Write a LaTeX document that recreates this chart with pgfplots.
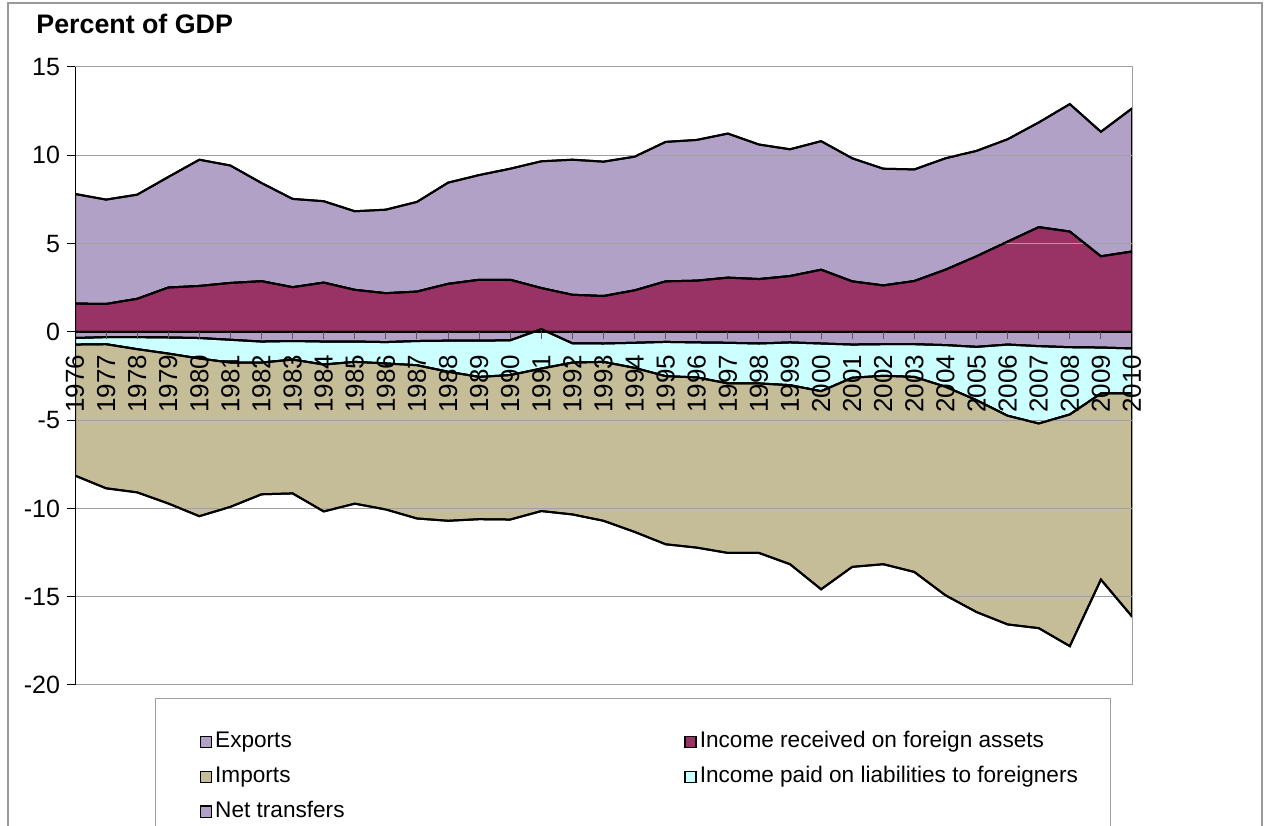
\documentclass[border=0pt]{standalone}
\usepackage{fontspec}
\setmainfont{Liberation Sans}
\usepackage{pgfplots}
\pgfplotsset{compat=1.18}
\usepackage{pgfplotstable}
\usepgfplotslibrary{fillbetween}
\definecolor{lav}{HTML}{B2A1C7}
\definecolor{plum}{HTML}{993366}
\definecolor{tanc}{HTML}{C4BD97}
\definecolor{ltcyan}{HTML}{CCFFFF}
\definecolor{gridgray}{HTML}{A0A0A0}
\pgfplotsset{layers/mylayers/.define layer set={axis background,axis grid,axis ticks,axis lines,pre main,main,axis tick labels,axis descriptions,axis foreground}{}}

\pgfplotstableread{
i year U R C B L
0 1976 7.81 1.60 -0.35 -0.72 -8.14
1 1977 7.49 1.58 -0.30 -0.70 -8.86
2 1978 7.77 1.87 -0.30 -0.98 -9.09
3 1979 8.77 2.51 -0.32 -1.23 -9.72
4 1980 9.75 2.60 -0.35 -1.51 -10.44
5 1981 9.42 2.77 -0.45 -1.74 -9.91
6 1982 8.43 2.87 -0.55 -1.74 -9.20
7 1983 7.53 2.53 -0.52 -1.57 -9.15
8 1984 7.40 2.79 -0.55 -1.85 -10.17
9 1985 6.83 2.38 -0.55 -1.70 -9.73
10 1986 6.92 2.19 -0.58 -1.79 -10.06
11 1987 7.36 2.28 -0.52 -1.89 -10.57
12 1988 8.45 2.72 -0.50 -2.26 -10.70
13 1989 8.88 2.95 -0.50 -2.55 -10.61
14 1990 9.24 2.95 -0.48 -2.45 -10.63
15 1991 9.66 2.48 0.15 -2.08 -10.15
16 1992 9.75 2.10 -0.65 -1.74 -10.34
17 1993 9.64 2.03 -0.66 -1.70 -10.70
18 1994 9.92 2.35 -0.62 -2.04 -11.33
19 1995 10.76 2.86 -0.57 -2.51 -12.03
20 1996 10.87 2.90 -0.60 -2.58 -12.22
21 1997 11.23 3.07 -0.62 -2.92 -12.52
22 1998 10.61 2.99 -0.66 -2.92 -12.52
23 1999 10.34 3.16 -0.60 -3.02 -13.16
24 2000 10.80 3.52 -0.66 -3.36 -14.58
25 2001 9.83 2.86 -0.72 -2.60 -13.31
26 2002 9.24 2.63 -0.70 -2.49 -13.16
27 2003 9.20 2.88 -0.70 -2.55 -13.60
28 2004 9.83 3.52 -0.75 -3.11 -14.92
29 2005 10.25 4.28 -0.85 -3.87 -15.87
30 2006 10.91 5.11 -0.72 -4.75 -16.57
31 2007 11.86 5.93 -0.81 -5.19 -16.78
32 2008 12.90 5.68 -0.87 -4.68 -17.80
33 2009 11.33 4.28 -0.89 -3.49 -14.03
34 2010 12.65 4.55 -0.94 -3.49 -16.12
}\data

\begin{document}
\begin{tikzpicture}
\draw[gray!80, line width=0.6bp] (4bp,-30bp) rectangle (631bp,411.5bp);
\node[anchor=base west, font=\bfseries\fontsize{13.4bp}{15bp}\selectfont, inner sep=0pt] at (18bp,396bp) {Percent of GDP};
\begin{axis}[
  set layers=mylayers,
  at={(37.5bp,70.5bp)}, anchor=south west,
  scale only axis, width=528.5bp, height=309bp,
  xmin=0, xmax=34, ymin=-20, ymax=15,
  xtick={0,...,34},
  xticklabels from table={\data}{year},
  xticklabel style={rotate=90, anchor=east, font=\fontsize{13bp}{15bp}\selectfont},
  xticklabel shift=-172.5bp,
  x tick style={draw=none},
  ytick={-20,-15,-10,-5,0,5,10,15},
  yticklabels={-20,-15,-10,-5,0,5,10,15},
  yticklabel style={font=\fontsize{12.5bp}{14bp}\selectfont},
  ytick pos=left,
  tick align=outside,
  major tick length=4bp,
  y tick style={black, line width=0.5bp},
  ymajorgrids, grid style={gridgray, line width=0.5bp},
  axis line style={gridgray, line width=0.5bp},
  legend columns=2,
  legend style={at={(0.0757,-0.021)}, anchor=north west, draw=gridgray, line width=0.6bp,
    inner xsep=22bp, inner ysep=16bp, row sep=5.8bp,
    font=\fontsize{11.3bp}{13bp}\selectfont,
    nodes={inner xsep=1.5bp, inner ysep=0.5bp, text height=8.2bp, text depth=2.4bp},
    /tikz/every even column/.append style={column sep=53bp}},
  legend image code/.code={\draw[#1, draw=black, line width=0.7bp] (0bp,-2.8bp) rectangle (5.6bp,2.8bp);},
]
\addlegendimage{fill=lav}
\addlegendentry{\makebox[180bp][l]{Exports}}
\addlegendimage{fill=plum}
\addlegendentry{\makebox[182bp][l]{Income received on foreign assets}}
\addlegendimage{fill=tanc}
\addlegendentry{\makebox[180bp][l]{Imports}}
\addlegendimage{fill=ltcyan}
\addlegendentry{\makebox[182bp][l]{Income paid on liabilities to foreigners}}
\addlegendimage{fill=lav}
\addlegendentry{\makebox[180bp][l]{Net transfers}}

\addplot[draw=none, name path=U, forget plot] table[x=i,y=U]{\data};
\addplot[draw=none, name path=R, forget plot] table[x=i,y=R]{\data};
\addplot[draw=none, name path=C, forget plot] table[x=i,y=C]{\data};
\addplot[draw=none, name path=B, forget plot] table[x=i,y=B]{\data};
\addplot[draw=none, name path=L, forget plot] table[x=i,y=L]{\data};
\addplot[draw=none, name path=Z, forget plot] coordinates {(0,0) (34,0)};

\addplot[fill=lav, draw=black, line width=1bp, forget plot] fill between[of=U and R];
\addplot[fill=plum, draw=black, line width=1bp, forget plot] fill between[of=R and Z];
\addplot[fill=lav, draw=black, line width=1bp, forget plot] fill between[of=Z and C];
\addplot[fill=ltcyan, draw=black, line width=1bp, forget plot] fill between[of=C and B];
\addplot[fill=tanc, draw=black, line width=1bp, forget plot] fill between[of=B and L];

\addplot[black, line width=1bp, forget plot] table[x=i,y=U]{\data};
\addplot[black, line width=1bp, forget plot] table[x=i,y=R]{\data};
\addplot[black, line width=1bp, forget plot] table[x=i,y=C]{\data};
\addplot[black, line width=1bp, forget plot] table[x=i,y=B]{\data};
\addplot[black, line width=1bp, forget plot] table[x=i,y=L]{\data};
\addplot[black, line width=1bp, forget plot] coordinates {(0,0) (34,0)};

\pgfplotsinvokeforeach{0,...,34}{
  \draw[gray!70!black, line width=0.5bp] (axis cs:#1,0) -- ([yshift=-3.5bp]axis cs:#1,0);
}
\draw[black, line width=0.7bp] (rel axis cs:0,0) -- (rel axis cs:0,1);
\end{axis}
\pgfresetboundingbox
\path[use as bounding box] (0,0) rectangle (634bp,413bp);
\end{tikzpicture}
\end{document}
